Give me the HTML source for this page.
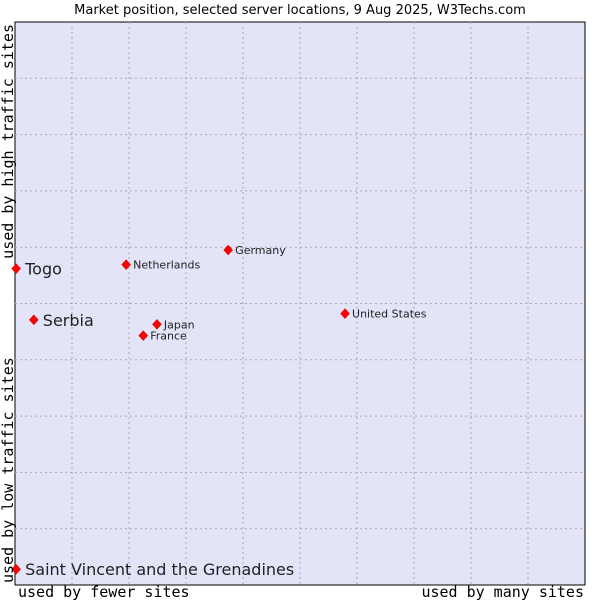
<!DOCTYPE html>
<html><head><meta charset="utf-8"><style>
body{margin:0;background:#fff;}
svg text{font-family:"DejaVu Sans","Liberation Sans",sans-serif;}
.mono{font-family:'DejaVu Sans Mono','Liberation Mono',monospace;}
</style></head><body>
<svg id="chart" width="600" height="600" xmlns="http://www.w3.org/2000/svg">
<text x="300" y="14" text-anchor="middle" font-size="13" fill="#000">Market position, selected server locations, 9 Aug 2025, W3Techs.com</text>
<rect x="15" y="22" width="570" height="563" fill="#e3e4f8" stroke="#000" stroke-width="1"/>
<g id="grid"></g>
<g id="points"></g>
<text class="mono" x="18" y="597" font-size="15" style="font-family:'DejaVu Sans Mono','Liberation Mono',monospace">used by fewer sites</text>
<text class="mono" x="584" y="597" text-anchor="end" font-size="15" style="font-family:'DejaVu Sans Mono','Liberation Mono',monospace">used by many sites</text>
<text class="mono" transform="translate(13,24) rotate(-90)" text-anchor="end" font-size="15" style="font-family:'DejaVu Sans Mono','Liberation Mono',monospace">used by high traffic sites</text>
<text class="mono" transform="translate(13,583) rotate(-90)" text-anchor="start" font-size="15" style="font-family:'DejaVu Sans Mono','Liberation Mono',monospace">used by low traffic sites</text>
</svg>
<script>
const names=["Togo","Serbia","Saint Vincent and the Grenadines","Netherlands","Germany","United States","Japan","France"];
const xValues=[0.2,3.3,0.2,19.5,37.4,57.9,24.9,22.5];
const yValues=[56.2,47.1,2.8,56.9,59.5,48.2,46.3,44.3];
const labelSizes=[16,16,16,11,11,11,11,11];
const gridTicks=[10,20,30,40,50,60,70,80,90];
const X0=15,X1=585,Y0=585,Y1=22;
const xs=v=>X0+(X1-X0)*v/100, ys=v=>Y0-(Y0-Y1)*v/100;
const NS="http://www.w3.org/2000/svg";
const g=document.getElementById('grid'),p=document.getElementById('points');
gridTicks.forEach(t=>{
  const a=document.createElementNS(NS,'line');
  
  
  a.setAttribute('x1',xs(t));a.setAttribute('x2',xs(t));a.setAttribute('y1',Y1);a.setAttribute('y2',Y0);
  a.setAttribute('stroke','#aaa');a.setAttribute('stroke-dasharray','2,3');g.appendChild(a);
  const b=document.createElementNS(NS,'line');
  
  
  b.setAttribute('y1',ys(t));b.setAttribute('y2',ys(t));b.setAttribute('x1',X0);b.setAttribute('x2',X1);
  b.setAttribute('stroke','#aaa');b.setAttribute('stroke-dasharray','2,3');g.appendChild(b);
});
names.forEach((n,i)=>{
  const cx=xs(xValues[i]),cy=ys(yValues[i]);
  const d=document.createElementNS(NS,'path');
  
  
  d.setAttribute('d',`M${cx},${cy-5}L${cx+4.5},${cy}L${cx},${cy+5}L${cx-4.5},${cy}Z`);
  d.setAttribute('fill','#f00');d.setAttribute('stroke','#c00');d.setAttribute('stroke-width','0.5');
  p.appendChild(d);
  const t=document.createElementNS(NS,'text');
  
  
  t.setAttribute('x',cx+(labelSizes[i]>12?9:7));t.setAttribute('y',cy+(labelSizes[i]>12?6:4));
  t.setAttribute('font-size',labelSizes[i]);t.setAttribute('fill','#222');
  t.textContent=n;p.appendChild(t);
});
</script>
</body></html>
